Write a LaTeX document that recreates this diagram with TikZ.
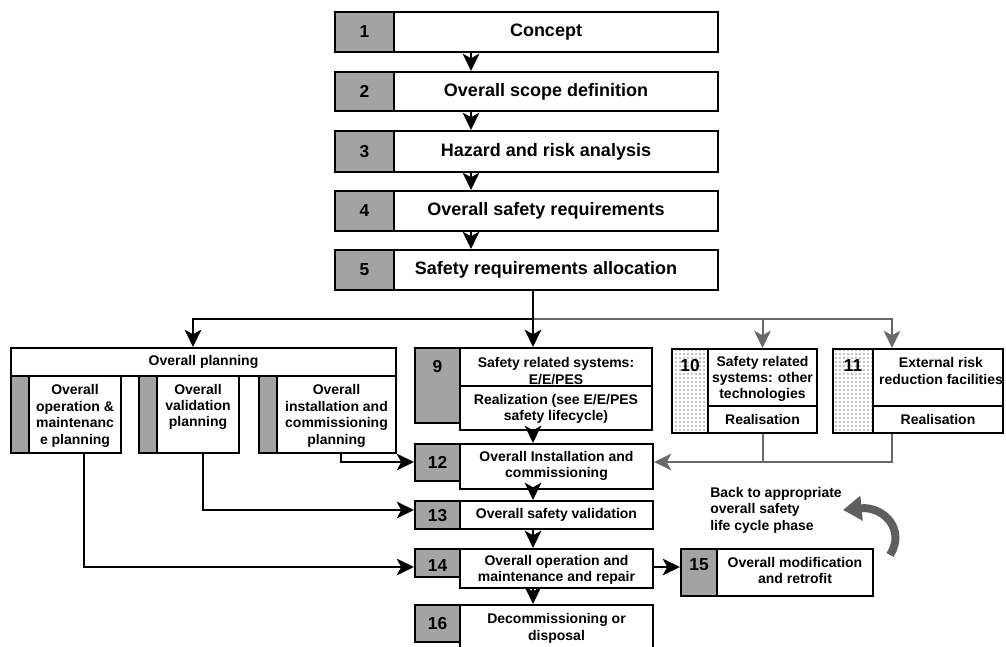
\documentclass[tikz,border=0pt]{standalone}
\usepackage{fontspec}
\setmainfont{Liberation Sans}
\usetikzlibrary{arrows.meta,patterns,fit}
\definecolor{cellgray}{RGB}{163,163,163}
\definecolor{lgray}{RGB}{105,105,105}
\definecolor{curvegray}{RGB}{95,95,95}
\begin{document}
\begin{tikzpicture}[x=0.75pt,y=-0.75pt,
  cell/.style={draw=black, line width=1.5pt, inner sep=0pt, fill=white},
  gcell/.style={cell, fill=cellgray},
  dcell/.style={cell, preaction={fill=white}, pattern=dots},
  big/.style={font=\bfseries\fontsize{13.5}{15}\selectfont, inner sep=0pt},
  num/.style={font=\bfseries\fontsize{13}{15}\selectfont, inner sep=0pt},
  txt/.style={font=\bfseries\fontsize{10.5}{12.3}\selectfont, align=center, inner sep=0pt},
  conn/.style={line width=1.5pt, -{Stealth[length=13pt,width=12.5pt,inset=3.5pt]}},
  gconn/.style={conn, draw=lgray},
  gline/.style={line width=1.5pt, draw=lgray},
]
\useasboundingbox (0,0) rectangle (1006,646);
\clip (0,0) rectangle (1006,646);

% ---- top chain
\node[gcell, fit={(335,12) (394,52)}] (g1) {};
\node[cell, fit={(394,12) (718,52)}] (w1) {};
\node[gcell, fit={(335,72) (394,111)}] (g2) {};
\node[cell, fit={(394,72) (718,111)}] (w2) {};
\node[gcell, fit={(335,131) (394,172)}] (g3) {};
\node[cell, fit={(394,131) (718,172)}] (w3) {};
\node[gcell, fit={(335,191) (394,231)}] (g4) {};
\node[cell, fit={(394,191) (718,231)}] (w4) {};
\node[gcell, fit={(335,250) (394,290)}] (g5) {};
\node[cell, fit={(394,250) (718,290)}] (w5) {};
\node[num] (n1) at (g1.center) {1};
\node[num] (n2) at (g2.center) {2};
\node[num] (n3) at (g3.center) {3};
\node[num] (n4) at (g4.center) {4};
\node[num] (n5) at (g5.center) {5};
\node[big] (t1) at (546,32) {Concept};
\node[big] (t2) at (546,91.5) {Overall scope definition};
\node[big] (t3) at (546,151.5) {Hazard and risk analysis};
\node[big] (t4) at (546,211) {Overall safety requirements};
\node[big] (t5) at (546,270) {Safety requirements allocation};

% ---- overall planning
\node[cell, fit={(11,348) (396,376)}] (op) {};
\node[txt] (top) at (op.center) {Overall planning};
\node[gcell, fit={(11,376) (29,453)}] (s1g) {};
\node[cell, fit={(29,376) (121,453)}] (s1w) {};
\node[gcell, fit={(139,376) (157,453)}] (s2g) {};
\node[cell, fit={(157,376) (239,453)}] (s2w) {};
\node[gcell, fit={(259,376) (277,453)}] (s3g) {};
\node[cell, fit={(277,376) (396,453)}] (s3w) {};
\node[txt] (ts1) at (75,416) {Overall\\operation \&\\maintenanc\\e planning};
\node[txt] (ts2) at (198,407) {Overall\\validation\\planning};
\node[txt] (ts3) at (336.5,416) {Overall\\installation and\\commissioning\\planning};

% ---- box 9
\node[gcell, fit={(415,348) (460,423)}] (g9) {};
\node[cell, fit={(460,348) (652,386)}] (w9a) {};
\node[cell, fit={(460,386) (652,430)}] (w9b) {};
\node[num] (n9) at (437.5,367) {9};
\node[txt] (t9a) at (556,371) {Safety related systems:\\E/E/PES};
\node[txt] (t9b) at (556,409) {Realization (see E/E/PES\\safety lifecycle)};

% ---- box 10
\node[dcell, fit={(672,349) (708,433)}] (g10) {};
\node[cell, fit={(708,349) (817,406)}] (w10a) {};
\node[cell, fit={(708,406) (817,433)}] (w10b) {};
\node[num] (n10) at (690,366) {10};
\node[txt] (t10a) at (762.5,379) {Safety related\\systems: other\\technologies};
\node[txt] (t10b) at (w10b.center) {Realisation};

% ---- box 11
\node[dcell, fit={(833,349) (873,433)}] (g11) {};
\node[cell, fit={(873,349) (1003,406)}] (w11a) {};
\node[cell, fit={(873,406) (1003,433)}] (w11b) {};
\node[num] (n11) at (853,366) {11};
\node[txt] (t11a) at (941,371) {External risk\\reduction facilities};
\node[txt] (t11b) at (w11b.center) {Realisation};

% ---- boxes 12..16
\node[gcell, fit={(415,444) (460,481)}] (g12) {};
\node[cell, fit={(460,444) (653,489)}] (w12) {};
\node[num] (n12) at (g12.center) {12};
\node[txt] (t12) at (556.5,466) {Overall Installation and\\commissioning};

\node[gcell, fit={(415,501) (460,529)}] (g13) {};
\node[cell, fit={(460,501) (653,529)}] (w13) {};
\node[num] (n13) at (437.5,516) {13};
\node[txt] (t13) at (556.5,515) {Overall safety validation};

\node[gcell, fit={(415,549) (460,577)}] (g14) {};
\node[cell, fit={(460,549) (653,588)}] (w14) {};
\node[num] (n14) at (437.5,566) {14};
\node[txt] (t14) at (556.5,570) {Overall operation and\\maintenance and repair};

\node[gcell, fit={(681,549) (717,596)}] (g15) {};
\node[cell, fit={(717,549) (873,596)}] (w15) {};
\node[num] (n15) at (699,565) {15};
\node[txt] (t15) at (795,570.5) {Overall modification\\and retrofit};

\node[gcell, fit={(415,605) (460,642)}] (g16) {};
\node[cell, fit={(460,605) (653,652)}] (w16) {};
\node[num] (n16) at (g16.center) {16};
\node[txt] (t16) at (556.5,628.5) {Decommissioning or\\disposal};

% ---- connectors
\coordinate (ax) at (471,0);
\foreach \a/\b in {1/2,2/3,3/4,4/5}
  \draw[conn] (w\a.south -| ax) -- (w\b.north -| ax);

\coordinate (bx) at (533,0);
\coordinate (j) at (533,319);
\coordinate (opx) at (193,0);
\coordinate (c11) at (892,0);
\coordinate (ry) at (0,462);
\coordinate (y13) at (0,510);
\coordinate (y14) at (0,567);
\coordinate (s1x) at (84,0);
\coordinate (s2x) at (203,0);
\coordinate (s3x) at (341,0);

\draw[gconn] (j) -| (w10a.north);
\draw[gconn] (j) -| (w11a.north -| c11);
\draw[conn] (w5.south -| bx) -- (w9a.north -| bx);
\draw[conn] (j) -| (op.north -| opx);

\draw[gline] (w10b.south) -- (w10b.south |- ry);
\draw[gconn] (w11b.south -| c11) |- (w12.east |- ry);

\draw[conn] (w9b.south -| bx) -- (w12.north -| bx);
\draw[conn] (w12.south -| bx) -- (w13.north -| bx);
\draw[conn] (w13.south -| bx) -- (w14.north -| bx);
\draw[conn] (w14.south -| bx) -- (w16.north -| bx);

\draw[conn] (s3w.south -| s3x) |- (g12.west |- ry);
\draw[conn] (s2w.south -| s2x) |- (g13.west |- y13);
\draw[conn] (s1w.south -| s1x) |- (g14.west |- y14);
\draw[conn] (w14.east |- y14) -- (g15.west |- y14);

% ---- back-to note
\node[txt, align=left, anchor=north west] (back) at (710,487)
  {Back to appropriate\\overall safety\\life cycle phase};
\draw[line width=6pt, curvegray, -{Triangle[length=14pt,width=18pt]}]
  (890,555) .. controls (906,530) and (884,506) .. (843,510);
\end{tikzpicture}
\end{document}
